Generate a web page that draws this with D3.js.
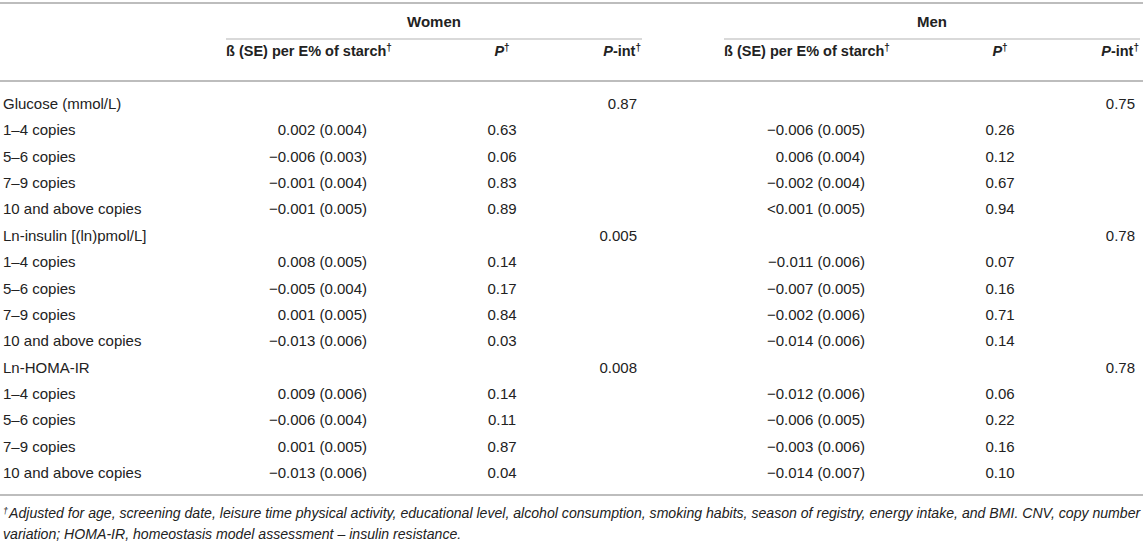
<!DOCTYPE html>
<html>
<head>
<meta charset="utf-8">
<script src="https://cdn.jsdelivr.net/npm/d3@7"></script>
<style>
  body { margin: 0; background: #fff; }
  svg { display: block; font-family: "Liberation Sans", Arial, sans-serif; }
</style>
</head>
<body>
<div id="table"></div>
<script>
// table content
const groups = ["Glucose (mmol/L)", "Ln-insulin [(ln)pmol/L]", "Ln-HOMA-IR"];
const copies = ["1–4 copies", "5–6 copies", "7–9 copies", "10 and above copies"];

const womenBeta = [
    ["0.002 (0.004)", "−0.006 (0.003)", "−0.001 (0.004)", "−0.001 (0.005)"],
    ["0.008 (0.005)", "−0.005 (0.004)", "0.001 (0.005)", "−0.013 (0.006)"],
    ["0.009 (0.006)", "−0.006 (0.004)", "0.001 (0.005)", "−0.013 (0.006)"]
];
const womenP = [
    ["0.63", "0.06", "0.83", "0.89"],
    ["0.14", "0.17", "0.84", "0.03"],
    ["0.14", "0.11", "0.87", "0.04"]
];
const womenPint = ["0.87", "0.005", "0.008"];

const menBeta = [
    ["−0.006 (0.005)", "0.006 (0.004)", "−0.002 (0.004)", "<0.001 (0.005)"],
    ["−0.011 (0.006)", "−0.007 (0.005)", "−0.002 (0.006)", "−0.014 (0.006)"],
    ["−0.012 (0.006)", "−0.006 (0.005)", "−0.003 (0.006)", "−0.014 (0.007)"]
];
const menP = [
    ["0.26", "0.12", "0.67", "0.94"],
    ["0.07", "0.16", "0.71", "0.14"],
    ["0.06", "0.22", "0.16", "0.10"]
];
const menPint = ["0.75", "0.78", "0.78"];

const sexes = ["Women", "Men"];
const footnote = [
    "Adjusted for age, screening date, leisure time physical activity, educational level, alcohol consumption, smoking habits, season of registry, energy intake, and BMI. CNV, copy number",
    "variation; HOMA-IR, homeostasis model assessment – insulin resistance."
];

const width = 1143, height = 544;
const lineColor = "#bdbdbd";
const textColor = "#222";

const svg = d3.select("#table").append("svg")
    .attr("width", width)
    .attr("height", height);

// flatten rows: group header row then its 4 copy rows
const rows = [];
groups.forEach((g, gi) => {
    rows.push({ label: g, group: gi, pint: [womenPint[gi], menPint[gi]] });
    copies.forEach((c, ci) => {
        rows.push({
            label: c,
            group: gi,
            beta: [womenBeta[gi][ci], menBeta[gi][ci]],
            p: [womenP[gi][ci], menP[gi][ci]]
        });
    });
});

const y = d3.scalePoint()
    .domain(d3.range(rows.length))
    .range([104, 473]);

// column anchors for each sex block (women, men)
const block = d3.scaleOrdinal().domain(sexes).range([0, 498]);
const col = { start: 226, beta: 367, p: 502, pint: 638, end: 642 };

// rules
const rule = (x1, x2, yy, w, c) => svg.append("line")
    .attr("x1", x1).attr("x2", x2).attr("y1", yy).attr("y2", yy)
    .attr("stroke", c || lineColor).attr("stroke-width", w);

rule(0, width, 3, 2);
rule(0, width, 81, 2);
rule(0, width, 495, 2);
sexes.forEach(s => {
    const dx = block(s);
    rule(col.start + dx, Math.min(col.end + dx, width), 39, 1.5, "#cccccc");
});

// group titles, centred over their spans
svg.selectAll(".sex")
    .data(sexes)
    .join("text")
    .attr("class", "sex")
    .attr("x", s => (col.start + block(s) + Math.min(col.end + block(s), width)) / 2)
    .attr("y", 27)
    .attr("text-anchor", "middle")
    .attr("font-weight", "bold")
    .attr("font-size", 15)
    .attr("fill", textColor)
    .text(s => s);

// column headers
function sup(sel) {
    sel.append("tspan").attr("font-size", 10).attr("dy", -5).text("†");
}
sexes.forEach(s => {
    const dx = block(s);
    const h = svg.append("g")
        .attr("font-weight", "bold")
        .attr("font-size", 14.5)
        .attr("fill", textColor);

    const t1 = h.append("text").attr("x", col.start + dx).attr("y", 56);
    t1.append("tspan").text("ß (SE) per E% of starch");
    sup(t1);

    const t2 = h.append("text").attr("x", col.p + dx).attr("y", 56).attr("text-anchor", "middle");
    t2.append("tspan").attr("font-style", "italic").text("P");
    sup(t2);

    const t3 = h.append("text").attr("x", col.pint + dx + 3).attr("y", 56).attr("text-anchor", "end");
    t3.append("tspan").attr("font-style", "italic").text("P");
    t3.append("tspan").text("-int");
    sup(t3);
});

// body rows
const body = svg.append("g")
    .attr("font-size", 15)
    .attr("fill", textColor);

const rowG = body.selectAll(".row")
    .data(rows)
    .join("g")
    .attr("class", "row")
    .attr("transform", (d, i) => `translate(0,${y(i) + 5})`);

rowG.append("text")
    .attr("x", 3)
    .text(d => d.label);

sexes.forEach((s, si) => {
    const dx = block(s);
    rowG.filter(d => d.beta).append("text")
        .attr("x", col.beta + dx)
        .attr("text-anchor", "end")
        .text(d => d.beta[si]);
    rowG.filter(d => d.p).append("text")
        .attr("x", col.p + dx)
        .attr("text-anchor", "middle")
        .text(d => d.p[si]);
    rowG.filter(d => d.pint).append("text")
        .attr("x", col.pint + dx - 1)
        .attr("text-anchor", "end")
        .text(d => d.pint[si]);
});

// footnote
const fn = svg.append("g")
    .attr("font-size", 12.6)
    .attr("font-style", "italic")
    .attr("fill", textColor);

const f1 = fn.append("text").attr("x", 3).attr("y", 518);
f1.append("tspan").attr("font-size", 9).attr("dy", -4).text("†");
f1.append("tspan").attr("dy", 4).attr("dx", 1).text(footnote[0]);
fn.append("text").attr("x", 3).attr("y", 539).text(footnote[1]);

// size the footnote so its first line runs the table width
const fw = f1.node().getComputedTextLength();
fn.attr("font-size", 12.6 * (width - 6) / fw);
</script>
</body>
</html>
